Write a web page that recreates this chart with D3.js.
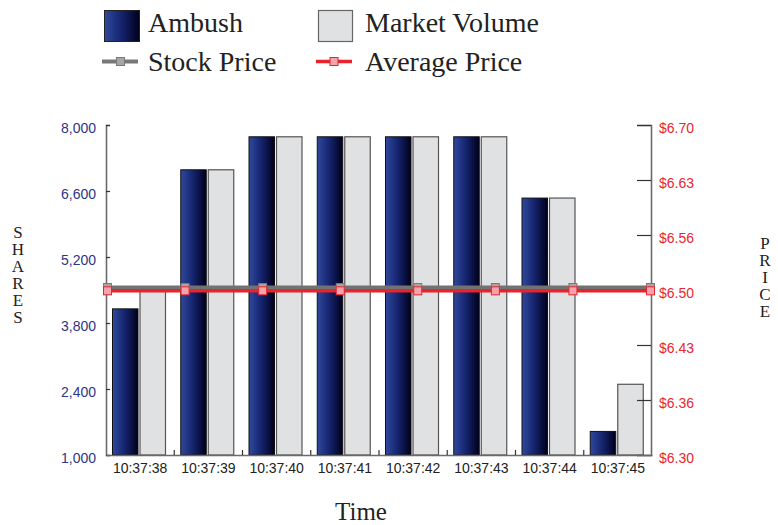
<!DOCTYPE html>
<html>
<head>
<meta charset="utf-8">
<script src="https://cdn.jsdelivr.net/npm/d3@7"></script>
<style>
  html, body { margin: 0; padding: 0; background: #fff; }
  svg { display: block; }
</style>
</head>
<body>
<svg id="chart" width="778" height="525"></svg>
<script>
// Trade data per second
const times = ["10:37:38", "10:37:39", "10:37:40", "10:37:41", "10:37:42", "10:37:43", "10:37:44", "10:37:45"];
const ambush = [4100, 7050, 7750, 7750, 7750, 7750, 6450, 1500];
const marketVolume = [4500, 7050, 7750, 7750, 7750, 7750, 6450, 2500];
const stockPrice = [6.503, 6.503, 6.503, 6.503, 6.503, 6.503, 6.503, 6.503];
const averagePrice = [6.499, 6.499, 6.499, 6.499, 6.499, 6.499, 6.499, 6.499];

const shareTicks = [1000, 2400, 3800, 5200, 6600, 8000];
const priceTicks = [6.30, 6.30 + 0.4 / 6, 6.30 + 0.8 / 6, 6.50, 6.30 + 1.6 / 6, 6.30 + 2.0 / 6, 6.70];
const priceTickLabels = ["$6.30", "$6.36", "$6.43", "$6.50", "$6.56", "$6.63", "$6.70"];

const svg = d3.select("#chart");
const plot = { left: 106, right: 651, top: 125, bottom: 455 };
const axisGrey = "#6a6a6a";
const sans = "'Liberation Sans', Arial, sans-serif";
const serif = "'Liberation Serif', 'Times New Roman', serif";

// Gradient for the Ambush bars
const defs = svg.append("defs");
const grad = defs.append("linearGradient").attr("id", "ambushGrad")
  .attr("x1", "0%").attr("x2", "100%").attr("y1", "0%").attr("y2", "0%");
grad.append("stop").attr("offset", "0%").attr("stop-color", "#30499c");
grad.append("stop").attr("offset", "45%").attr("stop-color", "#162672");
grad.append("stop").attr("offset", "100%").attr("stop-color", "#00001c");

// Scales
const x = d3.scaleBand().domain(times).range([plot.left, plot.right + 1]).padding(0);
const xPoint = d3.scalePoint().domain(times).range([plot.left + 1.5, plot.right - 0.5]);
const yShares = d3.scaleLinear().domain([1000, 8000]).range([plot.bottom, plot.top]);
const yPrice = d3.scaleLinear().domain([6.30, 6.70]).range([plot.bottom, plot.top]);

// Bars
const barW = 25.5;
const bars = svg.append("g");
bars.selectAll("rect.ambush").data(times).join("rect")
  .attr("class", "ambush")
  .attr("x", d => x(d) + 6.5)
  .attr("width", barW)
  .attr("y", (d, i) => yShares(ambush[i]))
  .attr("height", (d, i) => yShares(1000) - yShares(ambush[i]))
  .attr("fill", "url(#ambushGrad)")
  .attr("stroke", "#111")
  .attr("stroke-width", 1);
bars.selectAll("rect.market").data(times).join("rect")
  .attr("class", "market")
  .attr("x", d => x(d) + 34)
  .attr("width", barW)
  .attr("y", (d, i) => yShares(marketVolume[i]))
  .attr("height", (d, i) => yShares(1000) - yShares(marketVolume[i]))
  .attr("fill", "#e0e1e3")
  .attr("stroke", "#555")
  .attr("stroke-width", 1.2);

// Axes
const leftAxis = svg.append("g")
  .attr("transform", `translate(${plot.left},0)`)
  .call(d3.axisLeft(yShares).tickValues(shareTicks).tickFormat(d3.format(",")).tickSize(-4).tickPadding(10));
const rightAxis = svg.append("g")
  .attr("transform", `translate(${plot.right},0)`)
  .call(d3.axisRight(yPrice).tickValues(priceTicks).tickFormat((d, i) => priceTickLabels[i]).tickSize(-14).tickPadding(8));
const bottomAxis = svg.append("g")
  .attr("transform", `translate(0,${plot.bottom})`)
  .call(d3.axisBottom(x).tickSize(0).tickPadding(8));

[leftAxis, rightAxis, bottomAxis].forEach(g => {
  g.select(".domain").attr("stroke", axisGrey).attr("stroke-width", 1.6);
  g.selectAll(".tick line").attr("stroke", "#333").attr("stroke-width", 1.2);
  g.selectAll("text").attr("font-family", sans).attr("font-size", 14);
});
leftAxis.selectAll("text").attr("fill", "#2d3585").attr("dy", "0.55em");
rightAxis.selectAll("text").attr("fill", "#e8262f").attr("dy", "0.55em");
bottomAxis.selectAll("text").attr("fill", "#222");

// Small separators between time slots on the bottom axis
svg.append("g").selectAll("line").data(times.slice(1)).join("line")
  .attr("x1", d => x(d)).attr("x2", d => x(d))
  .attr("y1", plot.bottom).attr("y2", plot.bottom - 5)
  .attr("stroke", "#333").attr("stroke-width", 1.2);

// Price lines
const lineStock = d3.line().x((d, i) => xPoint(times[i])).y(d => yPrice(d));
svg.append("path").datum(stockPrice)
  .attr("d", lineStock).attr("fill", "none")
  .attr("stroke", "#727272").attr("stroke-width", 4);
svg.append("g").selectAll("rect").data(stockPrice).join("rect")
  .attr("x", (d, i) => xPoint(times[i]) - 4)
  .attr("y", d => yPrice(d) - 4)
  .attr("width", 8).attr("height", 8)
  .attr("fill", "#a6a6a6").attr("stroke", "#7a7a7a").attr("stroke-width", 1);
svg.append("path").datum(averagePrice)
  .attr("d", lineStock).attr("fill", "none")
  .attr("stroke", "#e8232b").attr("stroke-width", 3.5);
svg.append("g").selectAll("rect").data(averagePrice).join("rect")
  .attr("x", (d, i) => xPoint(times[i]) - 4)
  .attr("y", d => yPrice(d) - 4)
  .attr("width", 8).attr("height", 8)
  .attr("fill", "#f4a3aa").attr("stroke", "#e8232b").attr("stroke-width", 1);

// Axis titles: upright letters stacked top to bottom
const vText = (word, cx, topY) => {
  svg.append("text")
    .attr("x", cx).attr("y", topY)
    .style("writing-mode", "vertical-rl")
    .style("text-orientation", "upright")
    .style("letter-spacing", "-2px")
    .attr("font-family", serif).attr("font-size", 17).attr("fill", "#222")
    .text(word);
};
vText("SHARES", 18, 223);
vText("PRICE", 765, 234);
svg.append("text").attr("x", 361).attr("y", 520)
  .attr("text-anchor", "middle")
  .attr("font-family", serif).attr("font-size", 25).attr("fill", "#222")
  .text("Time");

// Legend
const legend = svg.append("g").attr("font-family", serif).attr("font-size", 28).attr("fill", "#222");
legend.append("rect").attr("x", 104.5).attr("y", 10.5).attr("width", 35).attr("height", 31)
  .attr("fill", "url(#ambushGrad)").attr("stroke", "#222").attr("stroke-width", 1);
legend.append("text").attr("x", 148).attr("y", 32).text("Ambush");
legend.append("rect").attr("x", 318.5).attr("y", 10.5).attr("width", 34).attr("height", 31)
  .attr("fill", "#e0e1e3").attr("stroke", "#666").attr("stroke-width", 1.2);
legend.append("text").attr("x", 365).attr("y", 32).text("Market Volume");

legend.append("line").attr("x1", 102).attr("x2", 138).attr("y1", 61.5).attr("y2", 61.5)
  .attr("stroke", "#787878").attr("stroke-width", 4);
legend.append("rect").attr("x", 116.5).attr("y", 57.5).attr("width", 8).attr("height", 8)
  .attr("fill", "#a6a6a6").attr("stroke", "#7a7a7a");
legend.append("text").attr("x", 148).attr("y", 71).text("Stock Price");
legend.append("line").attr("x1", 316).attr("x2", 352).attr("y1", 61.5).attr("y2", 61.5)
  .attr("stroke", "#e8232b").attr("stroke-width", 3.5);
legend.append("rect").attr("x", 330).attr("y", 57.5).attr("width", 8).attr("height", 8)
  .attr("fill", "#f4a3aa").attr("stroke", "#e8232b");
legend.append("text").attr("x", 365).attr("y", 71).text("Average Price");
</script>
</body>
</html>
